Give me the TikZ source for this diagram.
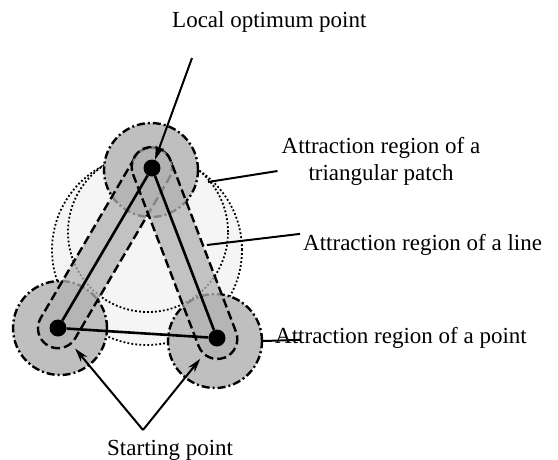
\documentclass[tikz,border=0pt]{standalone}
\usepackage{fontspec}
\setmainfont{Liberation Serif}
\usetikzlibrary{arrows.meta}

\begin{document}
\begin{tikzpicture}[%
      x=1pt, y=-1pt,
      txt/.style={%
        font          = \fontsize{23}{27}\selectfont,
        inner sep     = 0pt,
        align         = center,
      },
      dot/.style={%
        circle,
        fill          = black,
        minimum size  = 17pt,
        inner sep     = 0pt,
      },
      ptzone/.style={%
        circle,
        draw          = black,
        line width    = 2.4pt,
        dash pattern  = on 8pt off 3pt on 2pt off 3pt,
        fill          = gray!50,
        minimum size  = 94pt,
        inner sep     = 0pt,
      },
      linezone/.style={%
        rectangle,
        rounded corners = 20pt,
        draw          = black,
        line width    = 2.4pt,
        dash pattern  = on 9pt off 4pt,
        fill          = gray!60,
        fill opacity  = 0.75,
        minimum height = 40pt,
        inner sep     = 0pt,
      },
      patchzone/.style={%
        circle,
        draw          = black,
        line width    = 1.8pt,
        dash pattern  = on 1.8pt off 2.2pt,
        inner sep     = 0pt,
      },
      side/.style={line width=2.6pt},
      leader/.style={line width=2pt},
      pointer/.style={line width=2pt, -{Stealth[length=14pt,width=8pt]}},
      ]

      \useasboundingbox (0,0) rectangle (558,459);

      \node[patchzone, fill=gray!8, minimum size=190pt] (Pa) at (147,250) {};
      \node[patchzone, minimum size=160pt] (Pb) at (148,232) {};

      \node[ptzone] (Tz) at (151,170) {};
      \node[ptzone] (Lz) at (60,328) {};
      \node[ptzone] (Rz) at (215,341) {};

      \node[linezone, minimum width=226pt, rotate=59.6] (LTz) at (105,248) {};
      \node[linezone, minimum width=224pt, rotate=110.9] (RTz) at (184.5,253) {};

      \node[dot] (T) at (152,168) {};
      \node[dot] (L) at (58,328) {};
      \node[dot] (R) at (217,338) {};

      \draw[side] (L) -- (T);
      \draw[side] (T) -- (R);
      \draw[side] (L) -- (R);

      \node[txt, anchor=base west] (opt) at (172,27) {Local optimum point};
      \node[txt] (tri) at (381,161) {Attraction region of a \\ triangular patch};
      \node[txt, anchor=base west] (lin) at (303,250) {Attraction region of a line};
      \node[txt, anchor=base west] (pnt) at (275,343) {Attraction region of a point};
      \node[txt, anchor=base west] (start) at (107,455) {Starting point};

      \coordinate (opt-in) at (192,58);
      \coordinate (tri-in) at (208,182);
      \coordinate (lin-in) at (207,245);
      \coordinate (fork) at (143,430);

      \draw[pointer] (opt-in) -- (T);
      \draw[leader] ([shift={(-4pt,-10pt)}]tri.west) -- (tri-in);
      \draw[leader] ([shift={(-3pt,10.5pt)}]lin.west) -- (lin-in);
      \draw[leader] ([shift={(25pt,-2.5pt)}]pnt.west) -- (Rz.east);
      \draw[pointer, shorten >=18pt] (fork) -- (L);
      \draw[pointer, shorten >=18pt] (fork) -- (R);

    \end{tikzpicture}
\end{document}
